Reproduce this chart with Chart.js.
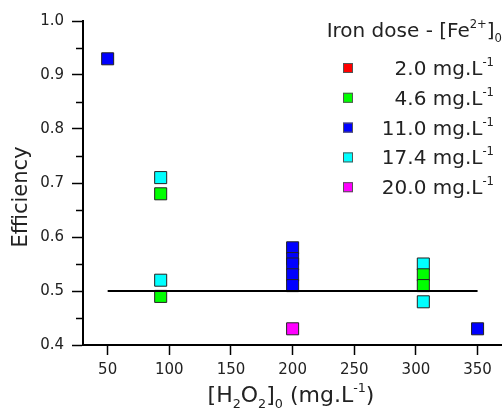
<!DOCTYPE html>
<html>
<head>
<meta charset="utf-8">
<script src="https://cdn.jsdelivr.net/npm/chart.js@4.4.1/dist/chart.umd.min.js"></script>
<style>
  html, body { margin: 0; padding: 0; background: #fff; }
  #wrap { width: 502px; height: 409px; position: relative; }
</style>
</head>
<body>
<div id="wrap"><canvas id="chart"></canvas></div>
<script>
// séries: [H2O2]0 (mg/L) e eficiência por dose de ferro
const doseLabels = ['2.0', '4.6', '11.0', '17.4', '20.0'];
const doseColors = ['#ff0000', '#00ff00', '#0000ff', '#00ffff', '#ff00ff'];

const fe20x = [];
const fe20y = [];
const fe46x = [93, 93, 306, 306];
const fe46y = [0.68, 0.49, 0.53, 0.51];
const fe110x = [50, 200, 200, 200, 200, 200, 350];
const fe110y = [0.93, 0.58, 0.56, 0.55, 0.53, 0.51, 0.43];
const fe174x = [93, 93, 306, 306];
const fe174y = [0.71, 0.52, 0.55, 0.48];
const fe200x = [200];
const fe200y = [0.43];

// linha média
const fitX = [50, 350];
const fitY = [0.5, 0.5];

const xTicks = [50, 100, 150, 200, 250, 300, 350];
const yTicks = [0.4, 0.5, 0.6, 0.7, 0.8, 0.9, 1.0];
const yMinor = [0.45, 0.55, 0.65, 0.75, 0.85, 0.95];

const FONT = '"DejaVu Sans", Verdana, sans-serif';

const toPts = (xs, ys) => xs.map((x, i) => ({ x: x, y: ys[i] }));
const seriesX = [fe20x, fe46x, fe110x, fe174x, fe200x];
const seriesY = [fe20y, fe46y, fe110y, fe174y, fe200y];

const datasets = [{
    type: 'line',
    data: toPts(fitX, fitY),
    borderColor: '#000',
    borderWidth: 2,
    pointRadius: 0,
    fill: false,
    order: 0
}];
doseLabels.forEach((lab, i) => {
    datasets.push({
        type: 'scatter',
        label: lab + ' mg.L-1',
        data: toPts(seriesX[i], seriesY[i]),
        pointStyle: 'rect',
        pointRadius: 8.5,
        backgroundColor: doseColors[i],
        borderColor: '#222',
        borderWidth: 1,
        order: 1
    });
});

// texto com sub/sobrescrito
function drawRich(ctx, parts, x, y, size, align) {
    let w = 0;
    parts.forEach(p => {
        ctx.font = (p.s ? size * 0.58 : size) + 'px ' + FONT;
        p.w = ctx.measureText(p.t).width;
        w += p.w;
    });
    let cx = align === 'right' ? x - w : align === 'center' ? x - w / 2 : x;
    ctx.textAlign = 'left';
    parts.forEach(p => {
        ctx.font = (p.s ? size * 0.58 : size) + 'px ' + FONT;
        const dy = p.s === 'sup' ? -size * 0.45 : p.s === 'sub' ? size * 0.25 : 0;
        ctx.fillText(p.t, cx, y + dy);
        cx += p.w;
    });
}

const extras = {
    id: 'extras',
    afterDraw(chart) {
        const ctx = chart.ctx;
        const xs = chart.scales.x, ys = chart.scales.y;
        ctx.save();
        // ticks menores do eixo y
        ctx.strokeStyle = '#000';
        ctx.lineWidth = 1.5;
        yMinor.forEach(v => {
            const py = Math.round(ys.getPixelForValue(v)) + 0.5;
            ctx.beginPath();
            ctx.moveTo(xs.left - 7, py);
            ctx.lineTo(xs.left, py);
            ctx.stroke();
        });
        ctx.fillStyle = '#222';
        ctx.textBaseline = 'alphabetic';
        // titulo eixo x
        drawRich(ctx, [
            { t: '[H' }, { t: '2', s: 'sub' }, { t: 'O' }, { t: '2', s: 'sub' },
            { t: ']' }, { t: '0', s: 'sub' }, { t: ' (mg.L' }, { t: '-1', s: 'sup' }, { t: ')' }
        ], 291, 402, 22, 'center');
        // titulo eixo y
        ctx.save();
        ctx.translate(27, 197);
        ctx.rotate(-Math.PI / 2);
        ctx.font = '21px ' + FONT;
        ctx.textAlign = 'center';
        ctx.fillText('Efficiency', 0, 0);
        ctx.restore();
        // legenda
        drawRich(ctx, [
            { t: 'Iron dose - [Fe' }, { t: '2+', s: 'sup' }, { t: ']' }, { t: '0', s: 'sub' }
        ], 502, 37, 20, 'right');
        doseLabels.forEach((lab, i) => {
            const cy = 68 + i * 29.8;
            ctx.fillStyle = doseColors[i];
            ctx.fillRect(343, cy - 5, 10, 10);
            ctx.strokeStyle = '#555';
            ctx.lineWidth = 1;
            ctx.strokeRect(343.5, cy - 4.5, 9, 9);
            ctx.fillStyle = '#222';
            drawRich(ctx, [{ t: lab + ' mg.L' }, { t: '-1', s: 'sup' }], 494, cy + 7, 20, 'right');
        });
        ctx.restore();
    }
};

new Chart(document.getElementById('chart'), {
    type: 'scatter',
    data: { datasets: datasets },
    options: {
        responsive: true,
        maintainAspectRatio: false,
        animation: false,
        layout: { autoPadding: false, padding: { top: 21, right: 1, left: 0, bottom: 0 } },
        plugins: { legend: { display: false }, tooltip: { enabled: false } },
        scales: {
            x: {
                type: 'linear',
                min: 30,
                max: 369,
                afterBuildTicks: s => { s.ticks = xTicks.map(v => ({ value: v })); },
                afterFit: s => { s.height = 64; s.paddingRight = 0; s.paddingLeft = 0; },
                ticks: {
                    color: '#222',
                    font: { family: FONT, size: 15 },
                    padding: 6,
                    maxRotation: 0
                },
                grid: { drawOnChartArea: false, tickLength: 10, tickWidth: 1.5, tickColor: '#000' },
                border: { color: '#000', width: 2 }
            },
            y: {
                min: 0.4,
                max: 1.0,
                afterBuildTicks: s => { s.ticks = yTicks.map(v => ({ value: v })); },
                afterFit: s => { s.width = 83; s.paddingTop = 0; s.paddingBottom = 0; },
                ticks: {
                    color: '#222',
                    font: { family: FONT, size: 15 },
                    padding: 8,
                    callback: v => v.toFixed(1)
                },
                grid: { drawOnChartArea: false, tickLength: 11, tickWidth: 1.5, tickColor: '#000' },
                border: { color: '#000', width: 2 }
            }
        }
    },
    plugins: [extras]
});
</script>
</body>
</html>
